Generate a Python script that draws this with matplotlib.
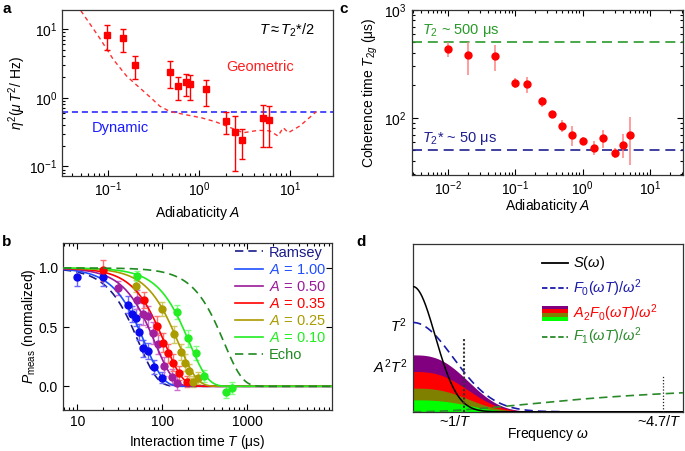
import numpy as np
import matplotlib
matplotlib.use('Agg')
import matplotlib.pyplot as plt
from matplotlib.ticker import LogLocator, NullFormatter, FixedLocator, FormatStrFormatter
from matplotlib.patches import Rectangle

plt.rcParams['font.family'] = ['Liberation Sans', 'DejaVu Sans']
plt.rcParams['mathtext.fontset'] = 'custom'
plt.rcParams['mathtext.rm'] = 'Liberation Sans'
plt.rcParams['mathtext.it'] = 'Liberation Sans:italic'
plt.rcParams['mathtext.bf'] = 'Liberation Sans:bold'
plt.rcParams['font.size'] = 10

# ---------------- Panel a data ----------------
a_A = [0.098, 0.147, 0.196, 0.48, 0.59, 0.71, 0.80, 1.2, 2.0, 2.5, 3.0, 5.0, 5.9]
a_eta = [8.3, 7.4, 3.0, 2.4, 1.48, 1.72, 1.57, 1.35, 0.46, 0.32, 0.24, 0.50, 0.48]
a_hi = [11.3, 10.0, 4.1, 3.4, 2.0, 2.25, 2.16, 1.84, 0.63, 0.54, 0.35, 0.79, 0.755]
a_lo = [5.0, 4.6, 1.9, 1.38, 0.94, 1.05, 0.94, 0.77, 0.30, 0.086, 0.128, 0.195, 0.195]
a_geo_A = [0.05, 0.08, 0.114, 0.16, 0.2, 0.244, 0.3, 0.37, 0.48, 0.7, 1.07, 1.5, 1.98,
           3.07, 4.5, 6.0, 7.4, 8.45, 9.6, 12.9, 19.6]
a_geo_eta = [18.5, 7.5, 3.6, 2.06, 1.58, 1.25, 0.98, 0.755, 0.63, 0.57, 0.51, 0.45, 0.39,
             0.31, 0.336, 0.33, 0.278, 0.367, 0.31, 0.39, 0.63]
a_dynamic = 0.62

# ---------------- Panel b data ----------------
b_labels = ['Ramsey', '$A$ = 1.00', '$A$ = 0.50', '$A$ = 0.35', '$A$ = 0.25', '$A$ = 0.10', 'Echo']
b_tau = [53, 62, 82, 106, 154, 208, 532]      # fitted decay times (us)
b_T = {
    '1.00': [10, 20, 39, 44, 49, 53, 59, 67, 80, 98],
    '0.50': [30, 50, 59, 68, 78, 89, 105, 128, 150],
    '0.35': [20, 60, 87, 102, 118, 135, 156, 193],
    '0.25': [49, 100, 138, 165, 182, 205, 228, 261],
    '0.10': [50, 149, 200, 250, 305, 553, 658],
}
b_P = {
    '1.00': [0.92, 0.92, 0.69, 0.61, 0.58, 0.46, 0.32, 0.30, 0.16, 0.074],
    '0.50': [0.83, 0.73, 0.61, 0.59, 0.45, 0.36, 0.17, 0.08, 0.03],
    '0.35': [0.98, 0.73, 0.51, 0.37, 0.28, 0.20, 0.11, 0.04],
    '0.25': [0.85, 0.65, 0.44, 0.29, 0.20, 0.13, 0.04, 0.07],
    '0.10': [0.93, 0.63, 0.405, 0.28, 0.085, -0.045, -0.012],
}
b_err = {
    '1.00': [0.07, 0.07, 0.07, 0.07, 0.07, 0.07, 0.07, 0.07, 0.06, 0.05],
    '0.50': [0.06, 0.08, 0.09, 0.09, 0.09, 0.09, 0.08, 0.07, 0.06],
    '0.35': [0.09, 0.07, 0.08, 0.08, 0.08, 0.07, 0.06, 0.05],
    '0.25': [0.05, 0.06, 0.07, 0.07, 0.07, 0.06, 0.05, 0.05],
    '0.10': [0.04, 0.06, 0.07, 0.06, 0.05, 0.05, 0.05],
}

# ---------------- Panel c data ----------------
c_A = [0.01, 0.02, 0.05, 0.1, 0.15, 0.25, 0.35, 0.5, 0.7, 1.0, 1.5, 2.0, 3.0, 4.0, 5.0]
c_T2g = [438, 378, 372, 211, 205, 143, 109, 84, 70, 61, 53, 65, 47, 56, 69]
c_hi = [509, 500, 468, 233, 238, 156, 114, 95, 84, 66, 61, 77, 52, 71, 101]
c_lo = [365, 247, 274, 188, 169, 127, 104, 74, 55, 56, 45, 52, 42, 42, 36.5]
c_T2 = 500
c_T2star = 50

# ---------------- Panel d (schematic) parameters ----------------
d_S_amp, d_S_width = 0.746, 0.116
d_F0_amp, d_F0_width = 0.532, 0.21
d_band_tops = [0.339, 0.24, 0.141, 0.071]
d_band_colors = ['#800080', '#ff0000', '#808000', '#00ff00']
d_band_width, d_band_pow = 0.243, 2.73
d_F1_amp, d_F1_k = 0.167, 0.475
d_mark1, d_mark1_h = 0.189, 0.433
d_mark47, d_mark47_h = 0.927, 0.22

fig = plt.figure(figsize=(6.85, 4.51), dpi=100)

def style_log(ax, allsides):
    ax.tick_params(which='both', direction='in', labelsize=10, width=0.8,
                   top=allsides, right=allsides)
    ax.tick_params(which='major', length=4)
    ax.tick_params(which='minor', length=2)
    for s in ax.spines.values():
        s.set_linewidth(0.9)
        s.set_color('#333333')

# ================= Panel a =================
axa = fig.add_axes([0.0905, 0.610, 0.396, 0.368])
axa.set_xscale('log'); axa.set_yscale('log')
axa.axhline(a_dynamic, color='#1a1aff', ls=(0, (4, 2.5)), lw=1.1)
axa.plot(a_geo_A, a_geo_eta, color='#ff3030', ls=(0, (3, 2.5)), lw=1.0)
yerr = [np.array(a_eta) - np.array(a_lo), np.array(a_hi) - np.array(a_eta)]
axa.errorbar(a_A, a_eta, yerr=yerr, fmt='s', color='#ff0000', ms=5, lw=1.0,
             capsize=2, capthick=1.0)
axa.set_xlim(0.031, 30); axa.set_ylim(0.073, 19)
style_log(axa, False)
axa.xaxis.set_major_locator(LogLocator(base=10, numticks=10))
axa.xaxis.set_minor_locator(LogLocator(base=10, subs=np.arange(2, 10), numticks=10))
axa.yaxis.set_minor_locator(LogLocator(base=10, subs=np.arange(2, 10), numticks=10))
axa.xaxis.set_minor_formatter(NullFormatter()); axa.yaxis.set_minor_formatter(NullFormatter())
axa.set_xlabel('Adiabaticity $A$', labelpad=3)
axa.set_ylabel(r'$\eta^2(\mu\,T^2/\ \mathrm{Hz})$', labelpad=1)
axa.text(0.934, 0.875, r'$T \approx T_2$*/2', transform=axa.transAxes, ha='right', va='center', fontsize=10.5)
axa.text(0.605, 0.657, 'Geometric', transform=axa.transAxes, color='#ff2020', ha='left', va='center', fontsize=10.5)
axa.text(0.111, 0.289, 'Dynamic', transform=axa.transAxes, color='#1a1aff', ha='left', va='center', fontsize=10.5)

# ================= Panel c =================
axc = fig.add_axes([0.601, 0.612, 0.396, 0.366])
axc.set_xscale('log'); axc.set_yscale('log')
axc.axhline(c_T2, color='#2a9a2a', ls=(0, (6, 3.5)), lw=1.2)
axc.axhline(c_T2star, color='#1f1f8f', ls=(0, (6, 3.5)), lw=1.2)
yerr = [np.array(c_T2g) - np.array(c_lo), np.array(c_hi) - np.array(c_T2g)]
axc.errorbar(c_A, c_T2g, yerr=yerr, fmt='none', ecolor='#ff8080', elinewidth=1.2, alpha=0.9)
axc.plot(c_A, c_T2g, 'o', color='#ff0000', ms=5)
axc.set_xlim(0.0029, 31); axc.set_ylim(29.5, 1000)
style_log(axc, True)
axc.xaxis.set_major_locator(LogLocator(base=10, numticks=10))
axc.xaxis.set_minor_locator(LogLocator(base=10, subs=np.arange(2, 10), numticks=10))
axc.yaxis.set_minor_locator(LogLocator(base=10, subs=np.arange(2, 10), numticks=10))
axc.xaxis.set_minor_formatter(NullFormatter()); axc.yaxis.set_minor_formatter(NullFormatter())
axc.set_xlabel('Adiabaticity $A$', labelpad=-1)
axc.set_ylabel('Coherence time $T_{2g}$ (μs)', labelpad=3)
axc.text(0.037, 0.875, '$T_2$ ~ 500 μs', transform=axc.transAxes, color='#2a9a2a', ha='left', va='center', fontsize=10.5)
axc.text(0.037, 0.224, '$T_2$* ~ 50 μs', transform=axc.transAxes, color='#1f1f8f', ha='left', va='center', fontsize=10.5)

# ================= Panel b =================
axb = fig.add_axes([0.092, 0.091, 0.393, 0.370])
axb.set_xscale('log')
Tgrid = np.logspace(np.log10(6.8), 4, 500)
line_cols = ['#1a1a8a', '#1f4fff', '#9a1a9a', '#ff0000', '#aa9b00', '#22ee22', '#208a20']
pt_cols = [None, '#0a0aee', '#a020a0', '#ff0000', '#aa9b00', '#22ee22', None]
err_cols = [None, '#6a6aff', '#d070d0', '#ff7070', '#d0c860', '#80ff80', None]
keys = [None, '1.00', '0.50', '0.35', '0.25', '0.10', None]
handles = []
for i, (lab, tau) in enumerate(zip(b_labels, b_tau)):
    P = np.exp(-(Tgrid / tau) ** 2)
    if i in (0, 6):
        ln, = axb.plot(Tgrid, P, color=line_cols[i], ls=(0, (5, 3)), lw=1.2, zorder=3 if i == 0 else 5)
    else:
        ln, = axb.plot(Tgrid, P, color=line_cols[i], lw=1.2, zorder=4)
    handles.append(ln)
for i in range(1, 6):
    k = keys[i]
    axb.errorbar(b_T[k], b_P[k], yerr=b_err[k], fmt='none', ecolor=err_cols[i],
                 elinewidth=1.0, capsize=2, capthick=1.0, zorder=3.5)
    axb.plot(b_T[k], b_P[k], 'o', color=pt_cols[i], ms=5, zorder=4.5)
axb.set_xlim(6.8, 9900); axb.set_ylim(-0.2, 1.21)
style_log(axb, True)
axb.xaxis.set_major_locator(FixedLocator([10, 100, 1000]))
axb.xaxis.set_major_formatter(FormatStrFormatter('%d'))
axb.xaxis.set_minor_locator(LogLocator(base=10, subs=np.arange(2, 10), numticks=10))
axb.xaxis.set_minor_formatter(NullFormatter())
axb.yaxis.set_major_locator(FixedLocator([0.0, 0.5, 1.0]))
axb.yaxis.set_major_formatter(FormatStrFormatter('%.1f'))
axb.set_xlabel('Interaction time $T$ (μs)', labelpad=3)
axb.set_ylabel(r'$P_{\mathrm{meas}}$ (normalized)', labelpad=1)
axb.legend(handles, b_labels, loc='upper left', bbox_to_anchor=(0.64, 0.985), frameon=False,
           borderpad=0, borderaxespad=0, labelspacing=0.21, handlelength=1.9, handletextpad=0.4,
           labelcolor=line_cols, fontsize=10.5)

# ================= Panel d =================
axd = fig.add_axes([0.603, 0.087, 0.394, 0.372])
x = np.linspace(0, 1, 600)
band_shape = np.exp(-(x / d_band_width) ** d_band_pow)
for top, col in zip(d_band_tops, d_band_colors):
    axd.fill_between(x, 0, top * band_shape, color=col, lw=0, zorder=1)
axd.plot(x, d_S_amp * np.exp(-(x / d_S_width) ** 2), color='black', lw=1.1, zorder=4)
xb = x[x <= 0.55]
axd.plot(xb, d_F0_amp * np.exp(-(xb / d_F0_width) ** 2), color='#1a1aa8', ls=(0, (5, 3)), lw=1.2, zorder=3)
axd.plot(x, d_F1_amp * x ** 2 / (x ** 2 + d_F1_k), color='#2a8a2a', ls=(0, (5, 3)), lw=1.2, zorder=3)
axd.plot([d_mark1, d_mark1], [0, d_mark1_h], color='#333333', ls=(0, (1, 1)), lw=1.5, zorder=5)
axd.plot([d_mark47, d_mark47], [0, d_mark47_h], color='#222222', ls=(0, (1, 1.5)), lw=0.9, zorder=5)
axd.set_xlim(0, 1); axd.set_ylim(0, 1)
axd.set_xticks([]); axd.set_yticks([])
for s in axd.spines.values():
    s.set_linewidth(0.9); s.set_color('#333333')
axd.set_xlabel(r'Frequency $\omega$', labelpad=10)
axd.text(0.156, -0.06, r'~1/$T$', transform=axd.transAxes, ha='center', va='center', fontsize=10.5)
axd.text(0.911, -0.06, r'~4.7/$T$', transform=axd.transAxes, ha='center', va='center', fontsize=10.5)
axd.text(-0.022, 0.512, r'$T^2$', transform=axd.transAxes, ha='right', va='center', fontsize=10.5)
axd.text(-0.022, 0.27, r'$A^2T^2$', transform=axd.transAxes, ha='right', va='center', fontsize=10.5)
# manual legend
lx0, lx1, tx = 0.477, 0.575, 0.593
rows = [0.885, 0.736, 0.587, 0.448]
axd.plot([lx0, lx1], [rows[0]] * 2, color='black', lw=1.3, transform=axd.transAxes)
axd.plot([lx0, lx1], [rows[1]] * 2, color='#1a1aa8', ls=(0, (3, 1.5)), lw=1.3, transform=axd.transAxes)
axd.plot([lx0, lx1], [rows[3]] * 2, color='#2a8a2a', ls=(0, (3, 1.5)), lw=1.3, transform=axd.transAxes)
ph = 0.092 / 4
for j, col in enumerate(d_band_colors):
    axd.add_patch(Rectangle((lx0, rows[2] + 0.046 - (j + 1) * ph), lx1 - lx0, ph, color=col,
                            lw=0, transform=axd.transAxes))
axd.text(tx, rows[0], r'$S(\omega)$', transform=axd.transAxes, va='center', fontsize=10.5, color='black')
axd.text(tx, rows[1], r'$F_0(\omega T)/\omega^2$', transform=axd.transAxes, va='center', fontsize=10.5, color='#1a1aa8')
axd.text(tx, rows[2], r'$A_2F_0(\omega T)/\omega^2$', transform=axd.transAxes, va='center', fontsize=10.5, color='#ff0000')
axd.text(tx, rows[3], r'$F_1(\omega T)/\omega^2$', transform=axd.transAxes, va='center', fontsize=10.5, color='#2a8a2a')

# panel letters
fig.text(0.003, 0.995, 'a', fontweight='bold', fontsize=11, va='top', ha='left')
fig.text(0.496, 0.995, 'c', fontweight='bold', fontsize=11, va='top', ha='left')
fig.text(0.003, 0.478, 'b', fontweight='bold', fontsize=11, va='top', ha='left')
fig.text(0.520, 0.478, 'd', fontweight='bold', fontsize=11, va='top', ha='left')

fig.savefig('out.png', dpi=100)
